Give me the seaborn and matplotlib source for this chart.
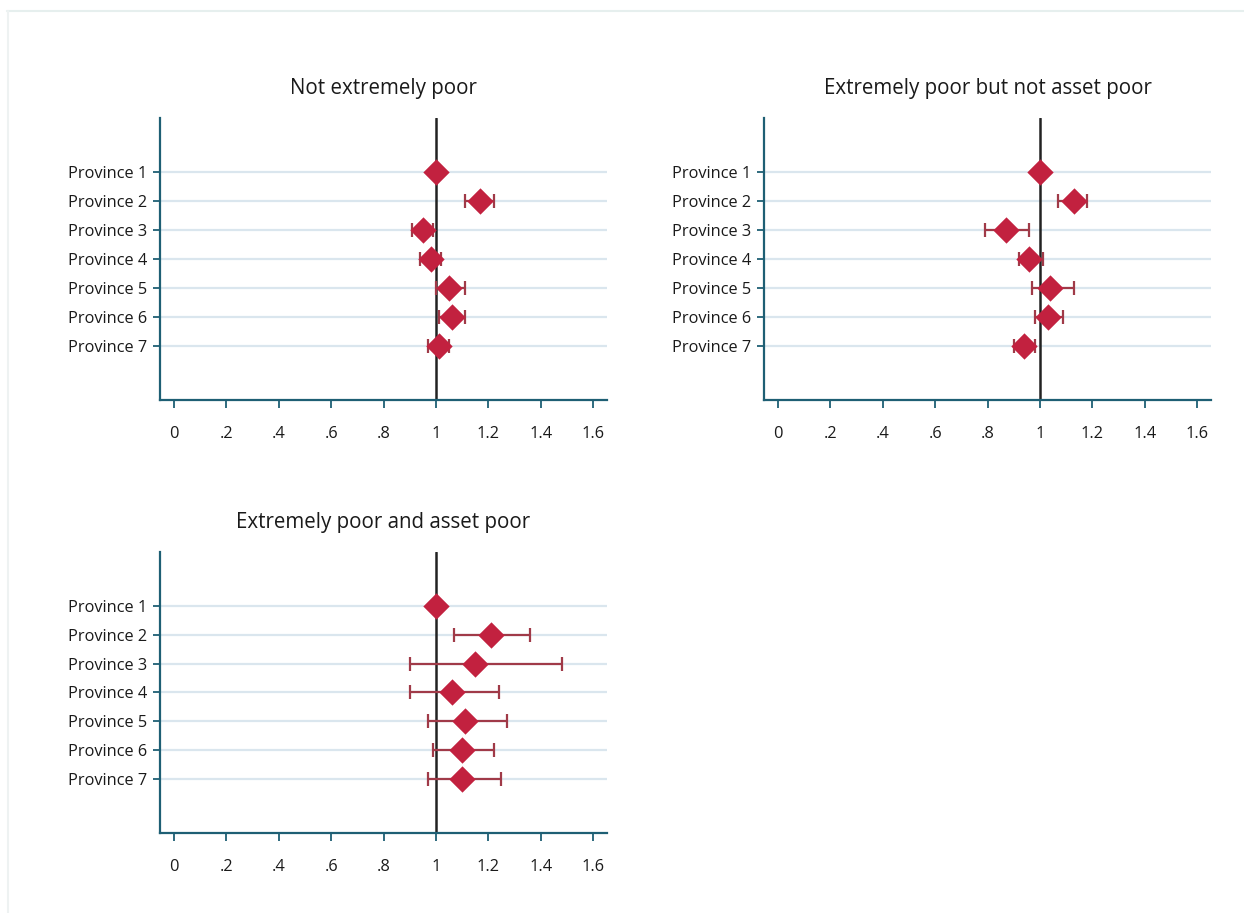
import numpy as np
import pandas as pd
import matplotlib
matplotlib.use("Agg")
import matplotlib.pyplot as plt
import seaborn as sns
from matplotlib.lines import Line2D

provinces = ["Province 1", "Province 2", "Province 3", "Province 4",
             "Province 5", "Province 6", "Province 7"]
titles = ["Not extremely poor", "Extremely poor but not asset poor",
          "Extremely poor and asset poor"]

est_not_poor = [1.00, 1.17, 0.95, 0.98, 1.05, 1.06, 1.01]
lo_not_poor = [1.00, 1.11, 0.91, 0.94, 1.00, 1.01, 0.97]
hi_not_poor = [1.00, 1.22, 0.99, 1.02, 1.11, 1.11, 1.05]

est_ext_notasset = [1.00, 1.13, 0.87, 0.96, 1.04, 1.03, 0.94]
lo_ext_notasset = [1.00, 1.07, 0.79, 0.92, 0.97, 0.98, 0.90]
hi_ext_notasset = [1.00, 1.18, 0.96, 1.01, 1.13, 1.09, 0.98]

est_ext_asset = [1.00, 1.21, 1.15, 1.06, 1.11, 1.10, 1.10]
lo_ext_asset = [1.00, 1.07, 0.90, 0.90, 0.97, 0.99, 0.97]
hi_ext_asset = [1.00, 1.36, 1.48, 1.24, 1.27, 1.22, 1.25]

xticks = [0, 0.2, 0.4, 0.6, 0.8, 1.0, 1.2, 1.4, 1.6]
xticklabels = ["0", ".2", ".4", ".6", ".8", "1", "1.2", "1.4", "1.6"]

series = [
    (est_not_poor, lo_not_poor, hi_not_poor),
    (est_ext_notasset, lo_ext_notasset, hi_ext_notasset),
    (est_ext_asset, lo_ext_asset, hi_ext_asset),
]

sns.set_theme(style="white")
plt.rcParams["font.family"] = ["Open Sans", "DejaVu Sans"]

W, H = 1244, 913
fig = plt.figure(figsize=(W / 100, H / 100), dpi=100)

# axes rectangles in pixel coordinates (left, top, right, bottom)
rects = [(160, 118, 607, 400), (764, 118, 1211, 400), (160, 552, 607, 833)]

spine_col = "#1e5f74"
grid_col = "#dae6ee"
marker_col = "#c2213f"
ci_col = "#a03a48"

for (est, lo, hi), title, (l, t, r, b) in zip(series, titles, rects):
    ax = fig.add_axes([l / W, 1 - b / H, (r - l) / W, (b - t) / H])
    df = pd.DataFrame({"province": provinces, "pos": np.arange(1, 8),
                       "est": est, "lo": lo, "hi": hi})
    for y in df["pos"]:
        ax.axhline(y, color=grid_col, lw=1.6, zorder=0)
    ax.axvline(1.0, color="#222222", lw=1.8, zorder=1)
    ci = df[df["hi"] > df["lo"]]
    ax.errorbar(ci["est"], ci["pos"],
                xerr=[ci["est"] - ci["lo"], ci["hi"] - ci["est"]],
                fmt="none", ecolor=ci_col, elinewidth=1.6, capsize=5,
                capthick=1.6, zorder=2)
    sns.scatterplot(data=df, x="est", y="pos", marker="D", s=180,
                    color=marker_col, edgecolor=marker_col, linewidth=0,
                    ax=ax, zorder=3, legend=False)
    ax.set_xlim(-0.053, 1.653)
    ax.set_ylim(8.86, -0.86)
    ax.set_yticks(df["pos"])
    ax.set_yticklabels(provinces)
    ax.set_xticks(xticks)
    ax.set_xticklabels(xticklabels)
    ax.set_xlabel("")
    ax.set_ylabel("")
    ax.set_title(title, fontsize=14.8, pad=17, color="#1a1a1a")
    for s in ["top", "right"]:
        ax.spines[s].set_visible(False)
    for s in ["left", "bottom"]:
        ax.spines[s].set_color(spine_col)
        ax.spines[s].set_linewidth(1.6)
    ax.tick_params(axis="both", which="major", length=6, width=1.3,
                   color=spine_col, labelsize=11.8, labelcolor="#1a1a1a",
                   left=True, bottom=True)
    ax.tick_params(axis="x", pad=13)
    ax.tick_params(axis="y", pad=4, length=5)

# faint outer frame
fig.add_artist(Line2D([7 / W, 1], [1 - 11 / H, 1 - 11 / H],
                      transform=fig.transFigure, color="#e6efee", lw=1.5))
fig.add_artist(Line2D([8 / W, 8 / W], [0, 1 - 11 / H],
                      transform=fig.transFigure, color="#eef2f2", lw=1.5))

fig.savefig("out.png", dpi=100)
